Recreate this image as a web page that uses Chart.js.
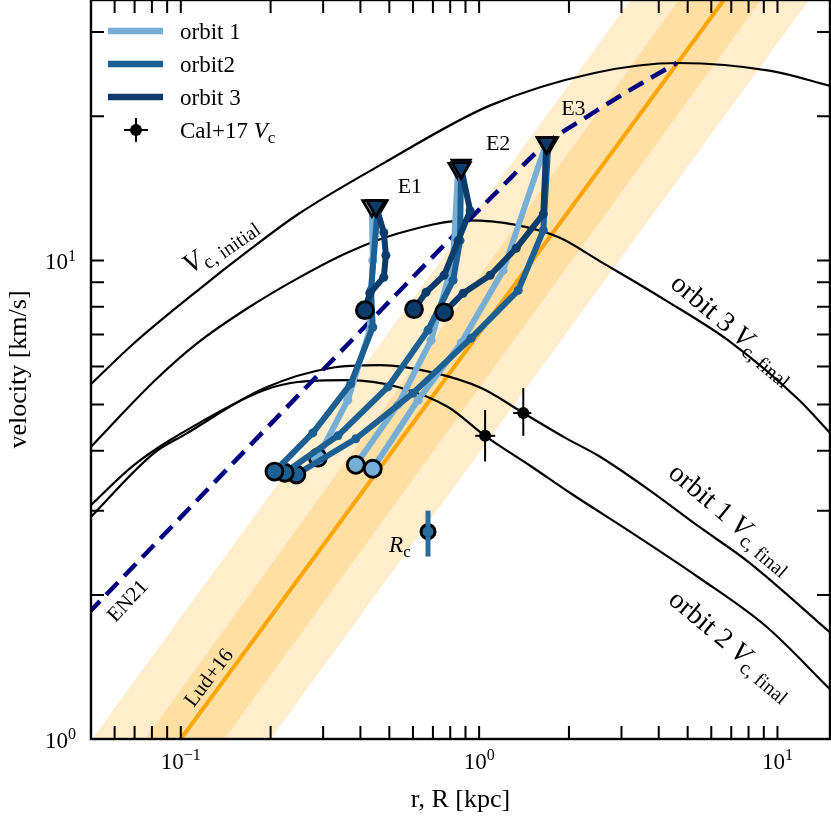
<!DOCTYPE html>
<html><head><meta charset="utf-8">
<script src="https://cdn.jsdelivr.net/npm/chart.js@4.4.0/dist/chart.umd.min.js"></script>
<style>html,body{margin:0;padding:0;background:#fff;}canvas{display:block;}</style>
</head><body>
<canvas id="c" width="831" height="817"></canvas>
<script>
// ---------------- data ----------------
const xTicks = [0.05,0.06,0.07,0.08,0.09,0.1,0.2,0.3,0.4,0.5,0.6,0.7,0.8,0.9,1,2,3,4,5,6,7,8,9,10];
const yTicks = [1,2,3,4,5,6,7,8,9,10,20,30];
const xTickLabels = {0.1:['10','−1'], 1:['10','0'], 10:['10','1']};
const yTickLabels = {1:['10','0'], 10:['10','1']};

// circular velocity curves
const vcInitR = [0.0489,0.0698,0.1163,0.1673,0.2464,0.4757,1.08,2.435,4.666,9.51,15.01];
const vcInitV = [5.44,6.72,8.745,10.44,12.47,15.93,21.03,24.64,25.85,24.88,23.15];
const vcOrb3R = [0.0489,0.0815,0.1136,0.1673,0.2464,0.3627,0.534,0.918,1.301,1.857,2.512,4.22,7.033,11.81,15.01];
const vcOrb3V = [4.02,5.596,6.715,7.943,9.173,10.39,11.38,12.12,11.89,11.16,10.0,8.25,6.72,5.11,4.36];
const vcOrb1R = [0.0489,0.0815,0.1027,0.1909,0.318,0.4684,0.6898,1.016,1.406,1.946,2.512,3.699,5.446,8.022,15.01];
const vcOrb1V = [2.87,3.96,4.32,5.41,5.96,6.04,5.84,5.41,4.80,4.258,3.906,3.32,2.78,2.34,1.67];
const vcOrb2R = [0.0489,0.0698,0.12,0.1909,0.2464,0.3627,0.534,0.7866,1.047,1.496,2.038,3.243,5.446,9.15,15.01];
const vcOrb2V = [3.04,3.74,4.64,5.36,5.57,5.62,5.44,4.94,4.30,3.71,3.254,2.699,2.175,1.72,1.27];

// EN21 relation
const en21R = [0.0489,0.383,1.158,1.680,2.325,3.168,4.595];
const en21V = [1.83,6.914,13.99,17.53,20.05,22.6,25.85];

// Lud+16 relation and scatter bands
const ludR = [0.1, 6.61];
const ludV = [1, 35];
const ludOuterLoR = [0.0504, 3.22];
const ludOuterHiR = [0.2, 12.76];
const ludInnerLoR = [0.076, 4.67];
const ludInnerHiR = [0.14, 8.8];
const ludBandV = [1, 35];

// Cal+17 Vc points
const calR = [1.047, 1.406];
const calV = [4.30, 4.80];
const calVlo = [3.80, 4.30];
const calVhi = [4.87, 5.41];
const calRlo = [0.970, 1.301];
const calRhi = [1.132, 1.496];

// core radius
const rcR = [0.674];
const rcV = [2.712];
const rcVlo = [2.405];
const rcVhi = [3.0];

// orbit tracks (start circle -> end triangle)
const o1e1R = [0.288,0.363,0.430,0.440,0.437];
const o1e1V = [3.87,5.11,7.15,10.0,13.0];
const o1e2R = [0.386,0.534,0.690,0.818,0.850];
const o1e2V = [3.74,4.99,6.81,10.0,15.55];
const o1e3R = [0.440,0.624,0.870,1.204,1.680];
const o1e3V = [3.67,5.11,6.72,9.53,17.6];
const o2e1R = [0.206,0.277,0.371,0.440,0.434,0.458];
const o2e1V = [3.62,4.36,5.52,7.25,8.66,13.0];
const o2e2R = [0.223,0.336,0.495,0.674,0.818,0.863,0.870];
const o2e2V = [3.60,4.30,5.44,7.15,9.09,11.0,15.8];
const o2e3R = [0.244,0.386,0.600,0.940,1.352,1.641,1.706];
const o2e3V = [3.57,4.24,5.28,6.88,8.66,11.55,17.6];
const o3e1R = [0.414,0.430,0.479,0.487,0.479,0.451];
const o3e1V = [7.87,8.54,9.22,10.24,11.44,13.0];
const o3e2R = [0.605,0.664,0.763,0.850,0.933,0.870];
const o3e2V = [7.91,8.58,9.31,11.0,12.7,15.6];
const o3e3R = [0.763,0.884,1.089,1.331,1.641,1.680];
const o3e3V = [7.79,8.54,9.31,10.6,12.5,17.6];

// ---------------- styling ----------------
const C1 = '#76aed6', C2 = '#1c5f93', C3 = '#0b3c6c';
const ORANGE = 'rgb(255,165,0)';
const BAND = 'rgba(255,165,0,0.2)';
const SERIF = '"Liberation Serif","Times New Roman",serif';

const pts = (rs, vs) => rs.map((r, i) => ({x: r, y: vs[i]}));
const poly = (lo, hi, vs) => pts(lo.concat(hi.slice().reverse(), [lo[0]]), vs.concat(vs.slice().reverse(), [vs[0]]));

function curve(rs, vs, color, width, order, extra) {
  return Object.assign({data: pts(rs, vs), showLine: true, borderColor: color, borderWidth: width,
    pointRadius: 0, pointHoverRadius: 0, fill: false, tension: 0, order: order}, extra || {});
}
function track(rs, vs, color, order) {
  const n = rs.length;
  const ends = i => i === 0 || i === n - 1;
  return {data: pts(rs, vs), showLine: true, borderColor: color, borderWidth: 6,
    borderJoinStyle: 'round', borderCapStyle: 'round', tension: 0, fill: false,
    pointRadius: rs.map((_, i) => i === 0 ? 8.5 : (i === n - 1 ? 10.5 : 4.5)),
    pointHoverRadius: 0,
    pointStyle: rs.map((_, i) => i === n - 1 ? 'triangle' : 'circle'),
    pointRotation: rs.map((_, i) => i === n - 1 ? 180 : 0),
    pointBackgroundColor: color,
    pointBorderColor: rs.map((_, i) => ends(i) ? '#000' : color),
    pointBorderWidth: rs.map((_, i) => ends(i) ? 2.8 : 0),
    order: order};
}
const smooth = {cubicInterpolationMode: 'monotone'};

const datasets = [
  {data: poly(ludOuterLoR, ludOuterHiR, ludBandV), showLine: true, borderWidth: 0, borderColor: 'rgba(0,0,0,0)', backgroundColor: BAND, fill: 'shape', pointRadius: 0, order: 100},
  {data: poly(ludInnerLoR, ludInnerHiR, ludBandV), showLine: true, borderWidth: 0, borderColor: 'rgba(0,0,0,0)', backgroundColor: BAND, fill: 'shape', pointRadius: 0, order: 99},
  curve(ludR, ludV, ORANGE, 4, 98),
  curve(vcInitR, vcInitV, '#000', 2.2, 97, smooth),
  curve(vcOrb3R, vcOrb3V, '#000', 2.2, 97, smooth),
  curve(vcOrb1R, vcOrb1V, '#000', 2.2, 97, smooth),
  curve(vcOrb2R, vcOrb2V, '#000', 2.2, 97, smooth),
  curve(en21R, en21V, '#000080', 4.5, 96, Object.assign({borderDash: [17, 9]}, smooth)),
];
calR.forEach((r, i) => {
  datasets.push(curve([r, r], [calVlo[i], calVhi[i]], '#000', 2, 95));
  datasets.push(curve([calRlo[i], calRhi[i]], [calV[i], calV[i]], '#000', 2, 95));
});
datasets.push({data: pts(calR, calV), showLine: false, pointRadius: 6, pointHoverRadius: 0, pointBackgroundColor: '#000', pointBorderWidth: 0, order: 95});
datasets.push(curve([rcR[0], rcR[0]], [rcVlo[0], rcVhi[0]], '#2b6c9c', 5, 94));
datasets.push({data: pts(rcR, rcV), showLine: false, pointRadius: 7, pointHoverRadius: 0, pointBackgroundColor: '#2b6c9c', pointBorderColor: '#000', pointBorderWidth: 3, order: 94});
[[o1e1R,o1e1V],[o1e2R,o1e2V],[o1e3R,o1e3V]].forEach(t => datasets.push(track(t[0], t[1], C1, 93)));
[[o2e1R,o2e1V],[o2e2R,o2e2V],[o2e3R,o2e3V]].forEach(t => datasets.push(track(t[0], t[1], C2, 92)));
[[o3e1R,o3e1V],[o3e2R,o3e2V],[o3e3R,o3e3V]].forEach(t => datasets.push(track(t[0], t[1], C3, 91)));

// ---------------- annotations ----------------
const annotations = [
  {r: 0.586, v: 14.33, angle: 0, parts: [{t: 'E1', size: 22}]},
  {r: 1.158, v: 17.61, angle: 0, parts: [{t: 'E2', size: 22}]},
  {r: 2.07, v: 20.84, angle: 0, parts: [{t: 'E3', size: 22}]},
  {r: 0.5425, v: 2.547, angle: 0, parts: [{t: 'R', size: 23, italic: true}, {t: 'c', size: 17, sub: true}]},
  {r: 0.1347, v: 10.85, angle: -34.5, parts: [{t: 'V', size: 28, italic: true}, {t: 'c, initial', size: 20, sub: true}]},
  {r: 7.142, v: 7.217, angle: 40, parts: [{t: 'orbit 3 ', size: 28}, {t: 'V', size: 28, italic: true}, {t: 'c, final', size: 20, sub: true}]},
  {r: 7.031, v: 2.901, angle: 40, parts: [{t: 'orbit 1 ', size: 28}, {t: 'V', size: 28, italic: true}, {t: 'c, final', size: 20, sub: true}]},
  {r: 7.031, v: 1.578, angle: 40, parts: [{t: 'orbit 2 ', size: 28}, {t: 'V', size: 28, italic: true}, {t: 'c, final', size: 20, sub: true}]},
  {r: 0.0661, v: 1.948, angle: -47, parts: [{t: 'EN21', size: 21}]},
  {r: 0.1237, v: 1.346, angle: -53, parts: [{t: 'Lud+16', size: 21}]},
];

function fontOf(p) { return (p.italic ? 'italic ' : '') + p.size + 'px ' + SERIF; }
function richText(ctx, parts, x, y, angle, align) {
  ctx.save();
  ctx.translate(x, y);
  ctx.rotate(angle * Math.PI / 180);
  ctx.textBaseline = 'alphabetic';
  ctx.textAlign = 'left';
  ctx.fillStyle = '#000';
  const w = parts.map(p => { ctx.font = fontOf(p); return ctx.measureText(p.t).width; });
  const total = w.reduce((a, b) => a + b, 0);
  const main = parts[0].size;
  let cx = align === 'left' ? 0 : (align === 'right' ? -total : -total / 2);
  const by = align === 'center' ? main * 0.33 : 0;
  parts.forEach((p, i) => {
    ctx.font = fontOf(p);
    ctx.fillText(p.t, cx, by + (p.sub ? main * 0.22 : 0) + (p.sup ? -main * 0.38 : 0));
    cx += w[i];
  });
  ctx.restore();
}

const decorPlugin = {
  id: 'decor',
  afterDraw(chart) {
    const ctx = chart.ctx, a = chart.chartArea, xs = chart.scales.x, ys = chart.scales.y;
    ctx.save();
    ctx.strokeStyle = '#000';
    ctx.lineWidth = 2;
    ctx.lineCap = 'butt';
    const L = 13;
    ctx.beginPath();
    xTicks.forEach(v => {
      const px = xs.getPixelForValue(v);
      if (px < a.left + 1 || px > a.right - 1) return;
      ctx.moveTo(px, a.bottom); ctx.lineTo(px, a.bottom - L);
      ctx.moveTo(px, a.top); ctx.lineTo(px, a.top + L);
    });
    yTicks.forEach(v => {
      const py = ys.getPixelForValue(v);
      if (py < a.top + 1 || py > a.bottom - 1) return;
      ctx.moveTo(a.left, py); ctx.lineTo(a.left + L, py);
      ctx.moveTo(a.right, py); ctx.lineTo(a.right - L, py);
    });
    ctx.stroke();
    ctx.lineWidth = 2.4;
    ctx.strokeRect(a.left, a.top, a.right - a.left, a.bottom - a.top);
    ctx.restore();

    // tick labels (10^n)
    xTicks.forEach(v => {
      const lab = xTickLabels[v];
      if (!lab) return;
      const px = xs.getPixelForValue(v);
      richText(ctx, [{t: lab[0], size: 23}, {t: lab[1], size: 16, sup: true}], px, a.bottom + 30, 0, 'centerBase');
    });
    yTicks.forEach(v => {
      const lab = yTickLabels[v];
      if (!lab) return;
      const py = ys.getPixelForValue(v);
      richText(ctx, [{t: lab[0], size: 23}, {t: lab[1], size: 16, sup: true}], a.left - 15, py + 9, 0, 'right');
    });

    annotations.forEach(an => {
      richText(ctx, an.parts, xs.getPixelForValue(an.r), ys.getPixelForValue(an.v), an.angle, 'center');
    });

    // legend
    const lx = a.left, ly = a.top;
    const items = [[C1, 'orbit 1'], [C2, 'orbit2'], [C3, 'orbit 3']];
    ctx.save();
    items.forEach((it, i) => {
      const y = ly + 31 + i * 33;
      ctx.strokeStyle = it[0];
      ctx.lineWidth = 6.5;
      ctx.beginPath(); ctx.moveTo(lx + 17, y); ctx.lineTo(lx + 72, y); ctx.stroke();
      richText(ctx, [{t: it[1], size: 23}], lx + 89, y + 7.5, 0, 'left');
    });
    const my = ly + 130, mx = lx + 45;
    ctx.strokeStyle = '#000'; ctx.lineWidth = 2;
    ctx.beginPath();
    ctx.moveTo(mx - 12, my); ctx.lineTo(mx + 12, my);
    ctx.moveTo(mx, my - 12); ctx.lineTo(mx, my + 12);
    ctx.stroke();
    ctx.fillStyle = '#000';
    ctx.beginPath(); ctx.arc(mx, my, 6, 0, Math.PI * 2); ctx.fill();
    richText(ctx, [{t: 'Cal+17 ', size: 23}, {t: 'V', size: 23, italic: true}, {t: 'c', size: 17, sub: true}], lx + 89, my + 7.5, 0, 'left');
    ctx.restore();
  }
};

new Chart(document.getElementById('c'), {
  type: 'scatter',
  data: {datasets: datasets},
  options: {
    responsive: false,
    devicePixelRatio: 1,
    animation: false,
    events: [],
    layout: {padding: {top: 0, right: 1, left: 0, bottom: 0}, autoPadding: false},
    plugins: {legend: {display: false}, tooltip: {enabled: false}},
    scales: {
      x: {
        type: 'logarithmic', position: 'bottom', min: 0.05, max: 15,
        afterBuildTicks: s => { s.ticks = xTicks.map(v => ({value: v})); },
        afterFit: s => { s.height = 78; s.paddingLeft = 0; s.paddingRight = 0; s.paddingTop = 0; s.paddingBottom = 0; },
        grid: {display: false, drawTicks: false},
        border: {display: false},
        ticks: {autoSkip: false, maxRotation: 0, minRotation: 0, padding: 0, callback: () => ''},
        title: {display: true, text: 'r, R [kpc]', color: '#000', font: {family: SERIF, size: 26}, padding: {top: 0, bottom: 1}}
      },
      y: {
        type: 'logarithmic', position: 'left', min: 1, max: 35,
        afterBuildTicks: s => { s.ticks = yTicks.map(v => ({value: v})); },
        afterFit: s => { s.width = 91; s.paddingLeft = 0; s.paddingRight = 0; s.paddingTop = 0; s.paddingBottom = 0; },
        grid: {display: false, drawTicks: false},
        border: {display: false},
        ticks: {autoSkip: false, padding: 0, callback: () => ''},
        title: {display: true, text: 'velocity [km/s]', color: '#000', font: {family: SERIF, size: 26}, padding: {top: 4, bottom: 0}}
      }
    }
  },
  plugins: [decorPlugin]
});
</script>
</body></html>
